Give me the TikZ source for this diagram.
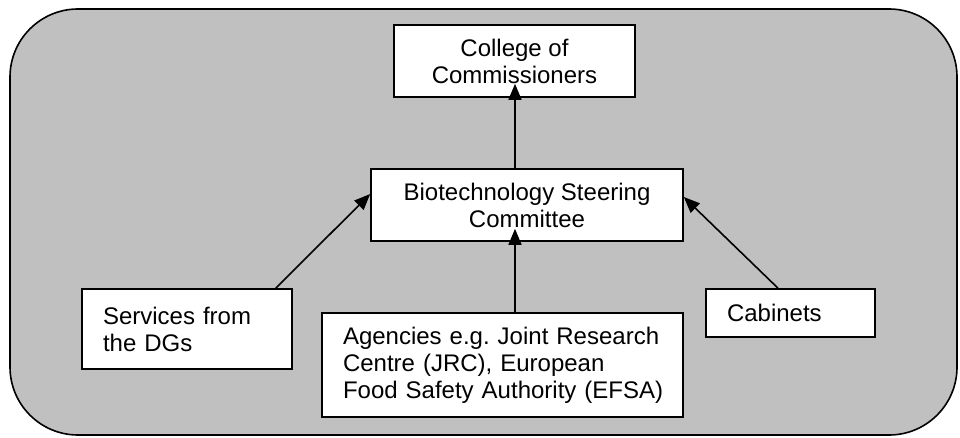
\documentclass[tikz,border=0pt]{standalone}
\usepackage{fontspec}
\setmainfont{Liberation Sans}
\usepackage[dvipsnames]{xcolor}
\usetikzlibrary{arrows.meta}
\definecolor{panelgray}{HTML}{C0C0C0}

\begin{document}
\begin{tikzpicture}[->,>={Triangle[length=16pt,width=13pt]},line width=1.6pt,node distance=144pt,
    box/.style={draw,fill=white,line width=1.6pt,font=\fontsize{24}{27}\selectfont\frenchspacing},
    mid box/.style={box,align=center,inner sep=0pt},
    left box/.style={box,align=left,inner xsep=21pt,inner ysep=0pt}]
    \useasboundingbox (0pt,0pt) rectangle (960pt,-438pt);
    \draw[-,fill=panelgray,rounded corners=68pt] (10pt,-9pt) rectangle (957pt,-435pt);

    \node[mid box, minimum width=241pt, minimum height=72pt] (college) at (514.5pt,-61pt) {College of\\Commissioners};
    \node[mid box, minimum width=312pt, minimum height=72pt] (steering) [below of = college, xshift = 12.5pt] {Biotechnology Steering\\Committee};

    \node[left box, text width=168pt, minimum height=80pt] (services) [below of = steering, xshift = -340pt, yshift = 20pt] {Services from\\the DGs};
    \node[left box, text width=319pt, minimum height=104pt] (agencies) [below of = steering, xshift = -24.5pt, yshift = -16pt] {\mbox{Agencies e.g. Joint Research}\\\mbox{Centre (JRC), European}\\\mbox{Food Safety Authority (EFSA)}};
    \node[left box, text width=127pt, minimum height=48pt] (cabinets) [below of = steering, xshift = 263.5pt, yshift = 36pt] {Cabinets};

    \coordinate (s1) at ([xshift=-17pt]services.north east);
    \coordinate (s2) at ([yshift=11pt]steering.west);
    \coordinate (c1) at ([xshift=-12.5pt]cabinets.north);
    \coordinate (c2) at ([yshift=8pt]steering.east);

    \path
        (s1) edge (s2)
        (c1) edge (c2)
        ([xshift=12.5pt]agencies.north) edge[shorten >=-13pt] ([xshift=-12pt]steering.south)
        ([xshift=-12pt]steering.north) edge[shorten >=-14pt] ([xshift=0.5pt]college.south)
        ;
\end{tikzpicture}
\end{document}
